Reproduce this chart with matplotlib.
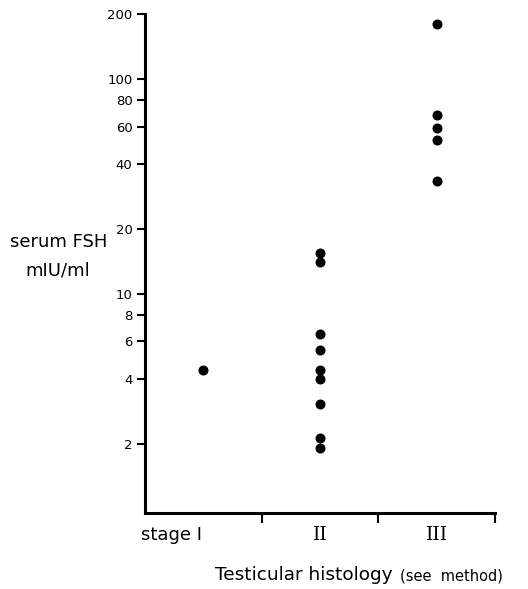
import matplotlib
matplotlib.use("Agg")
import matplotlib.pyplot as plt
import matplotlib.transforms as mtransforms
from matplotlib.ticker import FixedLocator, NullLocator

# data
stages = ["stage I", "II", "III"]
stage1_fsh = [4.4]
stage2_fsh = [15.4, 14.1, 6.5, 5.5, 4.4, 4.0, 3.06, 2.13, 1.92]
stage3_fsh = [180, 68, 59, 52, 33.5]
ytick_vals = [2, 4, 6, 8, 10, 20, 40, 60, 80, 100, 200]
ytick_text = ["2", "4", "6", "8", "10", "20", "40", "60", "80", "100", "200"]

fig = plt.figure(figsize=(5.28, 5.89), dpi=100)
ax = fig.add_axes([0.2746, 0.129, 0.663, 0.847])

groups = [stage1_fsh, stage2_fsh, stage3_fsh]
for i, vals in enumerate(groups):
    ax.plot([i + 0.5] * len(vals), vals, "o", color="black", markersize=6.2, linestyle="none")

ax.set_yscale("log")
ax.set_ylim(0.955, 200)
ax.set_xlim(0, 3)

ax.yaxis.set_major_locator(FixedLocator(ytick_vals))
ax.set_yticklabels(ytick_text)
ax.yaxis.set_minor_locator(NullLocator())

# boundaries as major ticks, stage names at centres
ax.set_xticks([1, 2, 3])
ax.set_xticklabels(["", "", ""])
ax.set_xticks([0.5, 1.5, 2.5], minor=True)
ax.set_xticklabels(stages, minor=True)
ax.tick_params(axis="x", which="minor", length=0, pad=9, labelsize=13)
ax.tick_params(axis="x", which="major", direction="out", length=7, width=1.5)
ax.tick_params(axis="y", which="major", direction="out", length=6, width=1.5, labelsize=9.5, pad=3)

labs = ax.get_xticklabels(minor=True)
labs[0].set_transform(labs[0].get_transform() + mtransforms.ScaledTranslation(-0.32, 0, fig.dpi_scale_trans))
for lab in labs[1:]:
    lab.set_family("DejaVu Serif")
    lab.set_fontsize(13.5)

for s in ["top", "right"]:
    ax.spines[s].set_visible(False)
for s in ["left", "bottom"]:
    ax.spines[s].set_linewidth(2.2)

fig.text(0.112, 0.589, "serum FSH", ha="center", va="center", fontsize=13)
fig.text(0.11, 0.541, "mIU/ml", ha="center", va="center", fontsize=13)

fig.text(0.407, 0.024, "Testicular histology", ha="left", va="center", fontsize=13.3)
fig.text(0.757, 0.022, "(see  method)", ha="left", va="center", fontsize=10.5)

fig.savefig("out.png", dpi=100, facecolor="white")
